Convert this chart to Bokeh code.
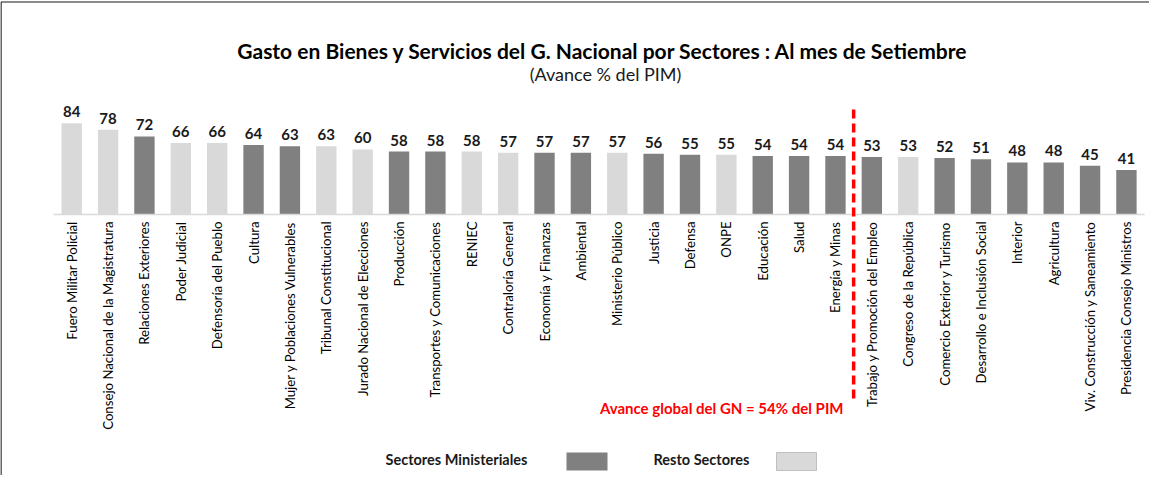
import numpy as np
from bokeh.plotting import figure
from bokeh.models import Range1d, Label
from bokeh.core.properties import value
from bokeh.embed import file_html
from bokeh.resources import INLINE

# ---------------- data ----------------
sectors = [
    "Fuero Militar Policial", "Consejo Nacional de la Magistratura", "Relaciones Exteriores",
    "Poder Judicial", "Defensoría del Pueblo", "Cultura", "Mujer y Poblaciones Vulnerables",
    "Tribunal Constitucional", "Jurado Nacional de Elecciones", "Producción",
    "Transportes y Comunicaciones", "RENIEC", "Contraloría General", "Economía y Finanzas",
    "Ambiental", "Ministerio Público", "Justicia", "Defensa", "ONPE", "Educación", "Salud",
    "Energía y Minas", "Trabajo y Promoción del Empleo", "Congreso de la República",
    "Comercio Exterior y Turismo", "Desarrollo e Inclusión Social", "Interior", "Agricultura",
    "Viv. Construcción y Saneamiento", "Presidencia Consejo Ministros",
]
avance = [84, 78, 72, 66, 66, 64, 63, 63, 60, 58, 58, 58, 57, 57, 57, 57, 56, 55, 55, 54, 54,
          54, 53, 53, 52, 51, 48, 48, 45, 41]
grupo = ["R", "R", "M", "R", "R", "M", "M", "R", "R", "M", "M", "R", "R", "M", "M", "R", "M",
         "M", "R", "M", "M", "M", "M", "R", "M", "M", "M", "M", "M", "M"]
avance_global = 54
legend_labels = {"M": "Sectores Ministeriales", "R": "Resto Sectores"}

title_text = "Gasto en Bienes y Servicios del G. Nacional por Sectores :  Al mes de Setiembre"
subtitle_text = "(Avance % del PIM)"
note_text = "Avance global del GN = 54% del PIM"

# ---------------- styling ----------------
COLORS = {"M": "#808080", "R": "#d9d9d9"}
FONT = "Lato"
W, H = 1149, 475
PX = 36.37          # pixels per category
PY = 1.085          # pixels per percentage point
X0_PX = 71.2        # canvas x of first category centre
BASE_PX = 214.0     # canvas y of baseline

x_start = -X0_PX / PX
x_end = x_start + W / PX
y_end = BASE_PX / PY
y_start = -(H - BASE_PX) / PY


def dx(page_x):
    return (page_x - 8) / PX + x_start


def dy(page_y):
    return (BASE_PX - (page_y - 8)) / PY


n = len(sectors)
idx = np.arange(n)
vals = np.array(avance, dtype=float)
colors = [COLORS[g] for g in grupo]

p = figure(width=W, height=H, x_range=Range1d(x_start, x_end), y_range=Range1d(y_start, y_end),
           output_backend="svg", toolbar_location=None, min_border=0,
           outline_line_color=None, background_fill_color="white", border_fill_color="white")
p.xaxis.visible = False
p.yaxis.visible = False
p.xgrid.visible = False
p.ygrid.visible = False

# outer frame (top + left)
p.line(x=[dx(8.5), x_end], y=[dy(9.5), dy(9.5)], line_color="#8c8c8c", line_width=2)
p.line(x=[dx(8.5), dx(8.5)], y=[dy(9.5), y_start], line_color="#000000", line_width=1.2)

# bars
p.vbar(x=idx, top=vals, bottom=0, width=0.56, fill_color=colors, line_color=None)

# category axis line
p.line(x=[-0.5, n - 0.5], y=[0, 0], line_color="#d9d9d9", line_width=1.5)

# value labels
p.text(x=idx, y=vals + 6 / PY, text=[str(v) for v in avance], text_align="center",
       text_baseline="bottom", text_font=value(FONT), text_font_style="bold",
       text_font_size="15px", text_color="#1a1a1a")

# category labels (vertical)
p.text(x=idx, y=np.full(n, -7 / PY), text=sectors, angle=np.pi / 2, text_align="right",
       text_baseline="middle", text_font=value(FONT), text_font_size="13.2px",
       text_color="#000000")

# global average divider
split = sum(1 for v in avance if v >= avance_global) - 0.5
p.line(x=[split, split], y=[dy(117), dy(406)], line_color="#ff0000", line_width=3.5,
       line_dash="9 5")

p.add_layout(Label(x=dx(851), y=dy(415), text=note_text, text_align="right",
                   text_baseline="middle", text_font=FONT, text_font_style="bold",
                   text_font_size="15px", text_color="#ff0000"))

# titles
p.add_layout(Label(x=dx(613), y=dy(58), text=title_text, text_align="center",
                   text_baseline="middle", text_font=FONT, text_font_style="bold",
                   text_font_size="21px", text_color="#000000"))
p.add_layout(Label(x=dx(613), y=dy(81), text=subtitle_text, text_align="center",
                   text_baseline="middle", text_font=FONT, text_font_size="18px",
                   text_color="#1a1a1a"))

# legend (text followed by swatch)
leg = [("M", 393, 574, 615), ("R", 661, 784, 824)]
for g, tx, s0, s1 in leg:
    p.add_layout(Label(x=dx(tx), y=dy(467), text=legend_labels[g], text_align="left",
                       text_baseline="middle", text_font=FONT, text_font_style="bold",
                       text_font_size="14.5px", text_color="#1a1a1a"))
    p.quad(left=[dx(s0)], right=[dx(s1)], top=[dy(460)], bottom=[dy(478)],
           fill_color=COLORS[g], line_color="#bfbfbf" if g == "R" else None, line_width=1)

open("out.html", "w").write(file_html(p, INLINE))
